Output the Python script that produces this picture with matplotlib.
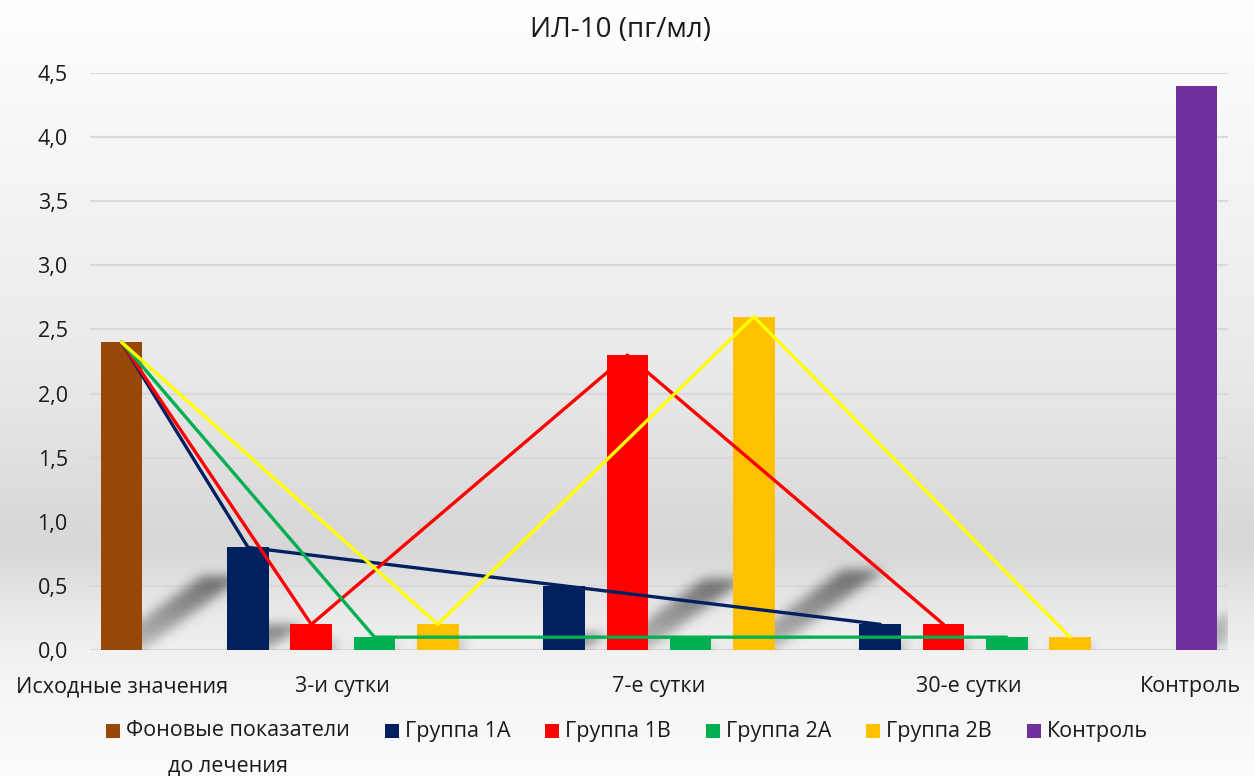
import numpy as np
import matplotlib
matplotlib.use("Agg")
import matplotlib.pyplot as plt
from matplotlib.patches import Rectangle

plt.rcParams['font.family'] = ['Open Sans', 'DejaVu Sans']

# ---- data ----
title = "ИЛ-10 (пг/мл)"
categories = ["Исходные значения", "3-и сутки", "7-е сутки", "30-е сутки", "Контроль"]
series_names = ["Фоновые показатели\nдо лечения", "Группа 1А", "Группа 1В",
                "Группа 2А", "Группа 2В", "Контроль"]
baseline_value = [2.4]
group_1a = [0.8, 0.5, 0.2]
group_1b = [0.2, 2.3, 0.2]
group_2a = [0.1, 0.1, 0.1]
group_2b = [0.2, 2.6, 0.1]
control_value = [4.4]
y_ticks = [0.0, 0.5, 1.0, 1.5, 2.0, 2.5, 3.0, 3.5, 4.0, 4.5]
y_tick_labels = ["0,0", "0,5", "1,0", "1,5", "2,0", "2,5", "3,0", "3,5", "4,0", "4,5"]

# ---- style ----
bar_colors = ["#974806", "#002060", "#FF0000", "#00B050", "#FFC000", "#7030A0"]
line_colors = ["#002060", "#FF0000", "#00B050", "#FFFF00"]
text_color = "#1a1a1a"
grid_color = "#d9d9d9"
label_size = 15.5
title_size = 20

W, H = 1254, 776
fig = plt.figure(figsize=(W / 100, H / 100), dpi=100)

# vertical background gradient over the whole figure
bg = fig.add_axes([0, 0, 1, 1], zorder=-10)
stop_px = np.array([0, 80, 200, 350, 450, 520, 550, 580, 620, 660, 700, 776]) / H
stop_val = np.array([255, 250, 243, 235, 225, 217, 215, 224, 235, 242, 246, 252]) / 255
col = np.interp(np.linspace(0, 1, H), stop_px, stop_val)
bg.imshow(np.tile(col[:, None, None], (1, 2, 3)), aspect='auto',
          extent=(0, 1, 0, 1), origin='upper', interpolation='bilinear')
bg.set_xlim(0, 1)
bg.set_ylim(0, 1)
bg.axis('off')

ax_left, ax_right, ax_top, ax_bottom = 90, 1228, 73, 650
ax = fig.add_axes([ax_left / W, 1 - ax_bottom / H,
                   (ax_right - ax_left) / W, (ax_bottom - ax_top) / H])
ax.patch.set_alpha(0)

xmin, xmax, ymin, ymax = -0.5, 17.5, 0.0, 4.5
bar_w = 0.66

# slot positions: baseline, four groups at three time points, control
base_x = [0]
groups = [group_1a, group_1b, group_2a, group_2b]
group_x = [[2 + 5 * t + g for t in range(len(groups[g]))] for g in range(len(groups))]
control_x = [17]
cat_x = [0, 3.5, 8.5, 13.4, 16.9]

all_bars = [(base_x, baseline_value, bar_colors[0])]
for g in range(len(groups)):
    all_bars.append((group_x[g], groups[g], bar_colors[g + 1]))
all_bars.append((control_x, control_value, bar_colors[5]))

# soft skewed drop shadows behind the bars
pw, ph = ax_right - ax_left, ax_bottom - ax_top
xs = np.linspace(xmin, xmax, pw)
ys = np.linspace(ymin, ymax, ph)
X, Y = np.meshgrid(xs, ys)
shade = np.zeros_like(X)
for xpos, vals, _ in all_bars:
    for c, h in zip(xpos, vals):
        top = 0.24 * h
        dx = 0.67 * h
        frac = np.clip(Y / top, 0, 1)
        left = c - bar_w / 2 + dx * frac
        inside = (Y <= top) & (X >= left) & (X <= left + bar_w)
        shade = np.maximum(shade, np.where(inside, 0.4 + 0.6 * frac, 0.0))
sigma = 5.5
k = np.arange(-20, 21)
kern = np.exp(-k ** 2 / (2 * sigma ** 2))
kern /= kern.sum()
shade = np.apply_along_axis(lambda r: np.convolve(r, kern, mode='same'), 1, shade)
shade = np.apply_along_axis(lambda r: np.convolve(r, kern, mode='same'), 0, shade)
rgba = np.zeros((ph, pw, 4))
rgba[..., :3] = 0.2
rgba[..., 3] = np.clip(shade * 0.68, 0, 1)
ax.imshow(rgba, extent=(xmin, xmax, ymin, ymax), origin='lower',
          aspect='auto', zorder=1.5, interpolation='bilinear')

# bars
for xpos, vals, color in all_bars:
    ax.bar(xpos, vals, width=bar_w, color=color, zorder=2, linewidth=0)

# lines from the baseline value through each group's bars
for g in range(len(groups)):
    lx = base_x + group_x[g]
    ly = baseline_value + groups[g]
    ax.plot(lx, ly, color=line_colors[g], linewidth=2.4, zorder=3,
            solid_joinstyle='round', solid_capstyle='round')

ax.set_xlim(xmin, xmax)
ax.set_ylim(ymin, ymax)
ax.set_yticks(y_ticks, y_tick_labels)
ax.set_xticks(cat_x, categories)
ax.yaxis.grid(True, color=grid_color, linewidth=1.6)
ax.set_axisbelow(True)
for s in ax.spines.values():
    s.set_visible(False)
ax.tick_params(axis='both', length=0, labelsize=label_size, labelcolor=text_color)
ax.tick_params(axis='y', pad=16)
ax.tick_params(axis='x', pad=19)

fig.text(621 / W, 1 - 30 / H, title, ha='center', va='center',
         fontsize=title_size, color=text_color)

# legend row laid out left to right, centred under the plot
renderer = fig.canvas.get_renderer()
leg_y = 1 - 731 / H
sq = 14
gap_sq_text = 6
gap_entry = 35
first_lines = [n.split("\n")[0] for n in series_names]
widths = []
texts = []
for name in first_lines:
    t = fig.text(0, leg_y, name, fontsize=label_size, color=text_color,
                 ha='left', va='center')
    texts.append(t)
    widths.append(t.get_window_extent(renderer).width)
total = sum(sq + gap_sq_text + w for w in widths) + gap_entry * (len(widths) - 1)
x = 627 - total / 2
for i, (t, w) in enumerate(zip(texts, widths)):
    fig.patches.append(Rectangle((x / W, leg_y - sq / 2 / H), sq / W, sq / H,
                                 transform=fig.transFigure, facecolor=bar_colors[i],
                                 edgecolor='none'))
    tx = x + sq + gap_sq_text
    t.set_x(tx / W)
    extra = series_names[i].split("\n")[1:]
    for j, line in enumerate(extra):
        fig.text((x + tx + w) / 2 / W, leg_y - 35 * (j + 1) / H, line,
                 fontsize=label_size, color=text_color, ha='center', va='center')
    x = tx + w + gap_entry

fig.savefig("out.png", dpi=100)
